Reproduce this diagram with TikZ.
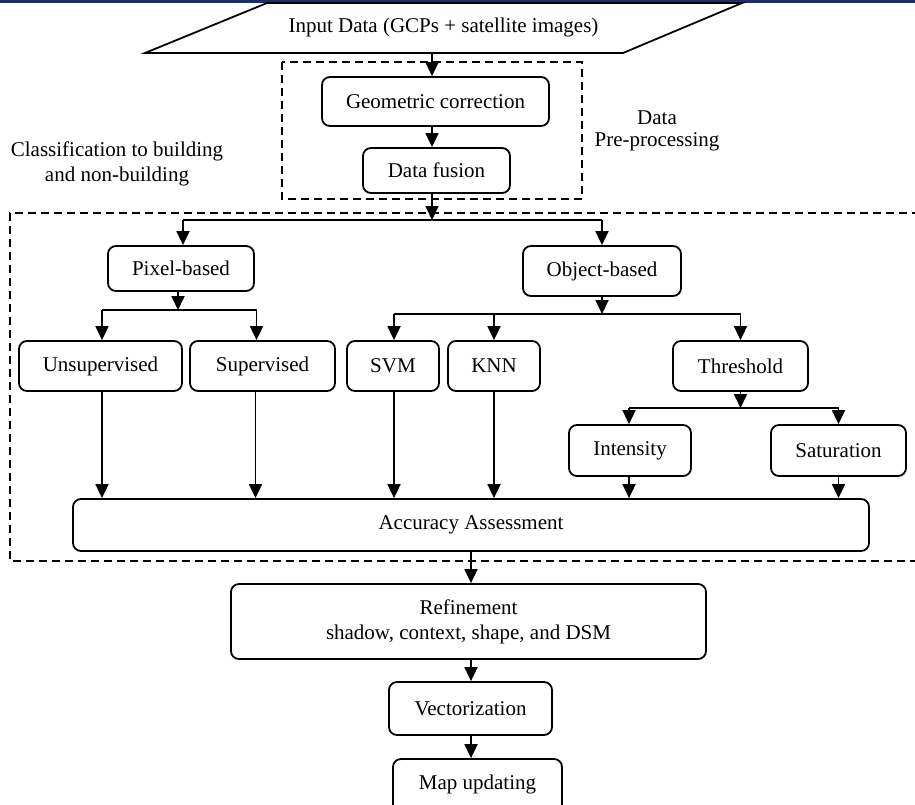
\documentclass[tikz,border=0pt]{standalone}
\usepackage{fontspec}
\setmainfont{Liberation Serif}
\usetikzlibrary{arrows.meta}
\definecolor{bandblue}{RGB}{28,45,110}
\begin{document}
\begin{tikzpicture}[x=1pt,y=-1pt,
  every node/.style={font=\fontsize{21}{25}\selectfont},
  box/.style={draw, line width=1.8pt, rounded corners=8pt, inner sep=0pt, align=center},
  conn/.style={line width=1.8pt},
  arr/.style={line width=1.8pt, -{Triangle[length=14pt,width=13pt]}},
  dashbox/.style={line width=1.6pt, dash pattern=on 8pt off 5pt},
  lbl/.style={align=center, inner sep=0pt}
]
\useasboundingbox (0,0) rectangle (915,804);
% top band
\fill[bandblue] (0,0) rectangle (915,2.5);

% input parallelogram
\coordinate (p1) at (267,3);
\coordinate (p2) at (742,3);
\coordinate (p3) at (623,53);
\coordinate (p4) at (145,53);
\draw[line width=1.8pt, line join=miter] (p1) -- (p2) -- (p3) -- (p4) -- cycle;
\node[lbl] (inp) at (443.5,27) {Input Data (GCPs + satellite images)};

% pre-processing group
\draw[dashbox] (282,62) rectangle (582,199);
\node[box, minimum width=227pt, minimum height=49pt] (geo) at (435.5,101.5) {Geometric correction};
\node[box, minimum width=147pt, minimum height=45pt] (fus) at (436.5,170.5) {Data fusion};
\node[lbl] (pre) at (657,131) {Data\\[-3pt]Pre-processing};

% classification group
\draw[dashbox] (920,213) -- (10,213) -- (10,561) -- (920,561);
\node[lbl] (cls) at (117,164) {Classification to building\\and non-building};

\node[box, minimum width=146pt, minimum height=45pt] (pix) at (181,268.5) {Pixel-based};
\node[box, minimum width=158pt, minimum height=50pt] (obj) at (602,271) {Object-based};

\node[box, minimum width=163pt, minimum height=50pt] (uns) at (100.5,366) {Unsupervised};
\node[box, minimum width=145pt, minimum height=50pt] (sup) at (262.5,366) {Supervised};
\node[box, minimum width=92pt, minimum height=50pt] (svm) at (393,366) {SVM};
\node[box, minimum width=92pt, minimum height=50pt] (knn) at (494,366) {KNN};
\node[box, minimum width=135pt, minimum height=50pt] (thr) at (740.5,366) {Threshold};

\node[box, minimum width=122pt, minimum height=51pt] (int) at (630,450.5) {Intensity};
\node[box, minimum width=135pt, minimum height=51pt] (sat) at (838.5,450.5) {Saturation};

\node[box, minimum width=796pt, minimum height=52pt] (acc) at (471,525) {Accuracy Assessment};

\node[box, minimum width=475pt, minimum height=75pt] (ref) at (468.5,621.5) {Refinement\\shadow, context, shape, and DSM};
\node[box, minimum width=163pt, minimum height=53pt] (vec) at (470.5,708.5) {Vectorization};
\node[box, minimum width=169pt, minimum height=60pt, text depth=0pt] (map) at (477.5,789) {};
\node[lbl] (maptext) at (477.5,784) {Map updating};

% junction coordinates
\coordinate (j1) at (432,220);
\coordinate (j2) at (178,310);
\coordinate (j3) at (602,314);
\coordinate (j4) at (740.5,408);
\coordinate (cin) at (432,53);

% connectors
\draw[arr] (cin) -- (cin |- geo.north);
\draw[arr] (cin |- geo.south) -- (cin |- fus.north);
\draw[arr] (cin |- fus.south) -- (j1);
\draw[conn] ([xshift=2pt]pix.north |- j1) -- (obj.north |- j1);
\draw[arr] ([xshift=2pt]pix.north |- j1) -- ([xshift=2pt]pix.north);
\draw[arr] (obj.north |- j1) -- (obj.north);

\draw[arr] (j2 |- pix.south) -- (j2);
\draw[conn] ([xshift=1.5pt]uns.north |- j2) -- ([xshift=-6pt]sup.north |- j2);
\draw[arr] ([xshift=1.5pt]uns.north |- j2) -- ([xshift=1.5pt]uns.north);
\draw[arr] ([xshift=-6pt]sup.north |- j2) -- ([xshift=-6pt]sup.north);

\draw[arr] (obj.south) -- (j3);
\draw[conn] ([xshift=1pt]svm.north |- j3) -- (thr.north |- j3);
\draw[arr] ([xshift=1pt]svm.north |- j3) -- ([xshift=1pt]svm.north);
\draw[arr] (knn.north |- j3) -- (knn.north);
\draw[arr] (thr.north |- j3) -- (thr.north);

\draw[arr] (thr.south) -- (j4);
\draw[conn] ([xshift=-1pt]int.north |- j4) -- (sat.north |- j4);
\draw[arr] ([xshift=-1pt]int.north |- j4) -- ([xshift=-1pt]int.north);
\draw[arr] (sat.north |- j4) -- (sat.north);

\draw[arr] ([xshift=1.5pt]uns.south) -- ([xshift=1.5pt]uns.south |- acc.north);
\draw[arr] ([xshift=-7pt]sup.south) -- ([xshift=-7pt]sup.south |- acc.north);
\draw[arr] ([xshift=1pt]svm.south) -- ([xshift=1pt]svm.south |- acc.north);
\draw[arr] (knn.south) -- (knn.south |- acc.north);
\draw[arr] ([xshift=-1pt]int.south) -- ([xshift=-1pt]int.south |- acc.north);
\draw[arr] (sat.south) -- (sat.south |- acc.north);

\draw[arr] (acc.south) -- (acc.south |- ref.north);
\draw[arr] (acc.south |- ref.south) -- (acc.south |- vec.north);
\draw[arr] (acc.south |- vec.south) -- (acc.south |- map.north);
\end{tikzpicture}
\end{document}
